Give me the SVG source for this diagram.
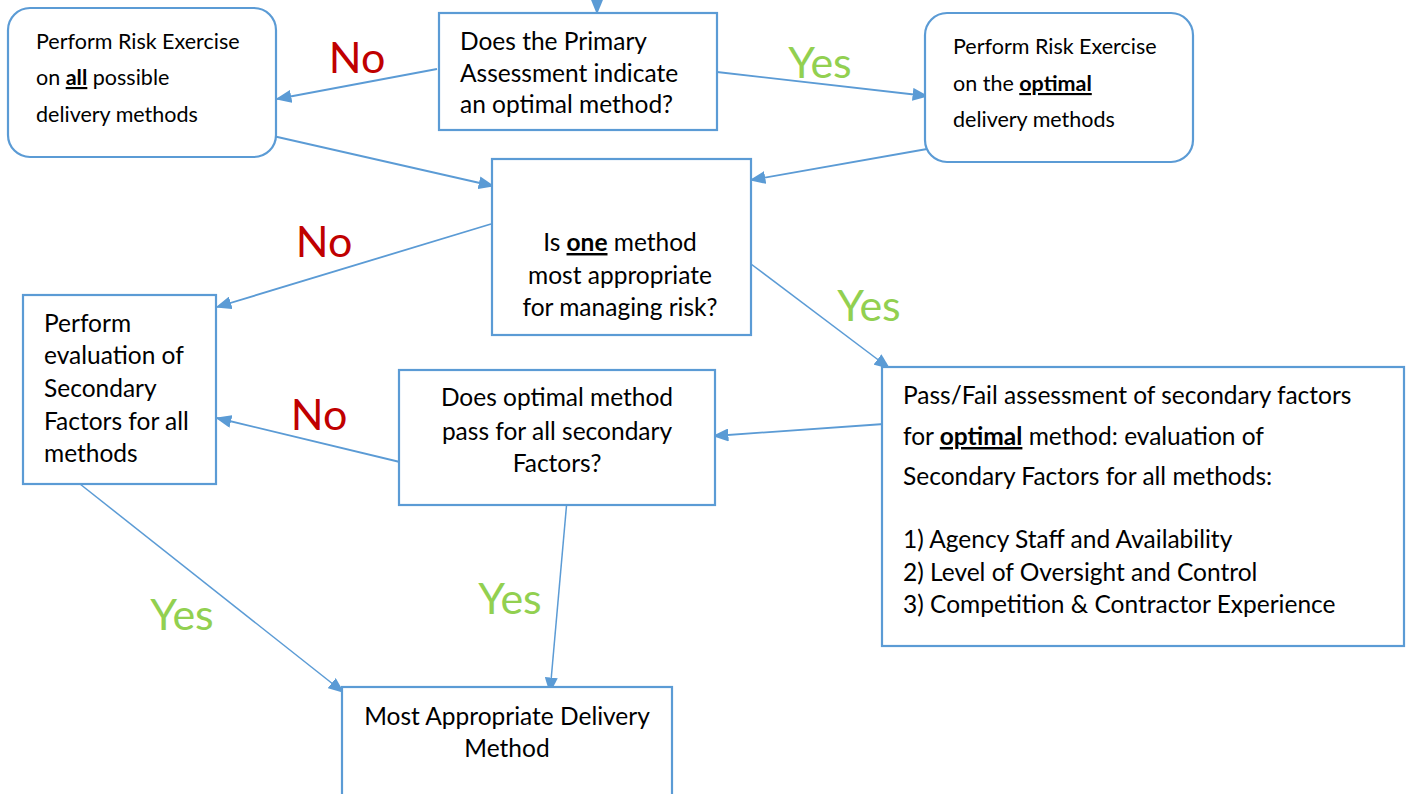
<svg xmlns="http://www.w3.org/2000/svg" width="1407" height="794" viewBox="0 0 1407 794">
<style>
.box{fill:#fff;stroke:#5B9BD5;stroke-width:2.2}
.t{font-family:Lato,"Liberation Sans",sans-serif;font-size:24.5px;fill:#000}
.s{font-size:21.5px}
.c{text-anchor:middle}
.u{font-weight:bold;text-decoration:underline}
.no{font-family:Lato,"Liberation Sans",sans-serif;font-size:43px;fill:#C00000;text-anchor:middle}
.yes{font-family:Lato,"Liberation Sans",sans-serif;font-size:43px;fill:#92D050;text-anchor:middle}
.ln{stroke:#5B9BD5;stroke-width:1.8;fill:none;marker-end:url(#ah2)}
.lt{stroke:#5B9BD5;stroke-width:1.5;fill:none;marker-end:url(#ah2)}
</style>
<defs>
<marker id="ah2" viewBox="0 0 10 10" refX="9" refY="5" markerWidth="16" markerHeight="13" markerUnits="userSpaceOnUse" orient="auto" preserveAspectRatio="none">
<path d="M0,0 L10,5 L0,10 z" fill="#5B9BD5"/>
</marker>
</defs>
<rect width="1407" height="794" fill="#fff"/>
<g id="connectors">
<line class="ln" x1="597" y1="0" x2="597" y2="13"/>
<line class="ln" x1="437" y1="69" x2="277" y2="99"/>
<line class="ln" x1="717" y1="72" x2="927" y2="96"/>
<line class="ln" x1="273" y1="136" x2="493" y2="186"/>
<line class="ln" x1="927" y1="149" x2="751" y2="180"/>
<line class="ln" x1="491" y1="224" x2="217" y2="307"/>
<line class="lt" x1="751" y1="264" x2="889" y2="368"/>
<line class="ln" x1="884" y1="424" x2="714" y2="436"/>
<line class="ln" x1="404" y1="463" x2="217" y2="418"/>
<line class="lt" x1="80" y1="484" x2="343" y2="692"/>
<line class="lt" x1="567" y1="500" x2="550" y2="692"/>
</g>
<g id="labels">
<text class="no" x="357" y="73">No</text>
<text class="yes" x="820" y="78">Yes</text>
<text class="no" x="324" y="257">No</text>
<text class="yes" x="869" y="321">Yes</text>
<text class="no" x="319" y="430">No</text>
<text class="yes" x="182" y="630">Yes</text>
<text class="yes" x="510" y="614">Yes</text>
</g>
<g id="nodeA">
<rect class="box" x="8" y="8" width="268" height="149" rx="22"/>
<text class="t s" x="36" y="49">Perform Risk Exercise</text>
<text class="t s" x="36" y="85">on <tspan class="u">all</tspan> possible</text>
<text class="t s" x="36" y="122">delivery methods</text>
</g>
<g id="nodeB">
<rect class="box" x="439" y="13" width="278" height="117"/>
<text class="t" x="460" y="50">Does the Primary</text>
<text class="t" x="460" y="82">Assessment indicate</text>
<text class="t" x="460" y="113">an optimal method?</text>
</g>
<g id="nodeC">
<rect class="box" x="925" y="13" width="268" height="149" rx="22"/>
<text class="t s" x="953" y="54">Perform Risk Exercise</text>
<text class="t s" x="953" y="91">on the <tspan class="u">optimal</tspan></text>
<text class="t s" x="953" y="127">delivery methods</text>
</g>
<g id="nodeD">
<rect class="box" x="492" y="159" width="259" height="176"/>
<text class="t c" x="620" y="251">Is <tspan class="u">one</tspan> method</text>
<text class="t c" x="620" y="284">most appropriate</text>
<text class="t c" x="620" y="316">for managing risk?</text>
</g>
<g id="nodeE">
<rect class="box" x="23" y="295" width="193" height="189"/>
<text class="t" x="44" y="332">Perform</text>
<text class="t" x="44" y="364">evaluation of</text>
<text class="t" x="44" y="397">Secondary</text>
<text class="t" x="44" y="430">Factors for all</text>
<text class="t" x="44" y="462">methods</text>
</g>
<g id="nodeF">
<rect class="box" x="399" y="370" width="316" height="135"/>
<text class="t c" x="557" y="406">Does optimal method</text>
<text class="t c" x="557" y="440">pass for all secondary</text>
<text class="t c" x="557" y="472">Factors?</text>
</g>
<g id="nodeG">
<rect class="box" x="882" y="367" width="522" height="279"/>
<text class="t" x="903" y="404">Pass/Fail assessment of secondary factors</text>
<text class="t" x="903" y="445">for <tspan class="u">optimal</tspan> method: evaluation of</text>
<text class="t" x="903" y="485">Secondary Factors for all methods:</text>
<text class="t" x="903" y="548">1) Agency Staff and Availability</text>
<text class="t" x="903" y="581">2) Level of Oversight and Control</text>
<text class="t" x="903" y="613">3) Competition &amp; Contractor Experience</text>
</g>
<g id="nodeH">
<rect class="box" x="342" y="687" width="330" height="130"/>
<text class="t c" x="507" y="725">Most Appropriate Delivery</text>
<text class="t c" x="507" y="757">Method</text>
</g>
</svg>
